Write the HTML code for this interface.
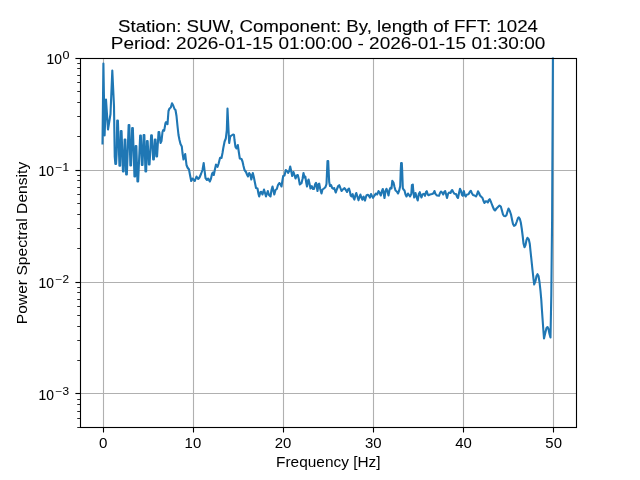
<!DOCTYPE html>
<html><head><meta charset="utf-8"><title>Power Spectral Density</title>
<style>html,body{margin:0;padding:0;background:#fff;}body{position:relative;width:640px;height:480px;overflow:hidden;}svg{display:block;position:absolute;left:0;top:0;}svg.t{will-change:transform;}text{font-family:"Liberation Sans",sans-serif;fill:#000;}</style>
</head><body>
<svg width="640" height="480" viewBox="0 0 640 480">
<rect x="0" y="0" width="640" height="480" fill="#ffffff"/>
<g stroke="#b0b0b0" stroke-width="1.11">
<line x1="103.5" y1="58.1" x2="103.5" y2="427.2"/>
<line x1="193.5" y1="58.1" x2="193.5" y2="427.2"/>
<line x1="283.5" y1="58.1" x2="283.5" y2="427.2"/>
<line x1="373.5" y1="58.1" x2="373.5" y2="427.2"/>
<line x1="463.5" y1="58.1" x2="463.5" y2="427.2"/>
<line x1="553.5" y1="58.1" x2="553.5" y2="427.2"/>
<line x1="80.0" y1="58.5" x2="576.0" y2="58.5"/>
<line x1="80.0" y1="170.5" x2="576.0" y2="170.5"/>
<line x1="80.0" y1="282.5" x2="576.0" y2="282.5"/>
<line x1="80.0" y1="393.5" x2="576.0" y2="393.5"/>
</g>
<g stroke="#000" stroke-width="1.11">
<line x1="103.5" y1="427.2" x2="103.5" y2="432.50"/>
<line x1="193.5" y1="427.2" x2="193.5" y2="432.50"/>
<line x1="283.5" y1="427.2" x2="283.5" y2="432.50"/>
<line x1="373.5" y1="427.2" x2="373.5" y2="432.50"/>
<line x1="463.5" y1="427.2" x2="463.5" y2="432.50"/>
<line x1="553.5" y1="427.2" x2="553.5" y2="432.50"/>
<line x1="75.40" y1="58.5" x2="80.0" y2="58.5"/>
<line x1="75.40" y1="170.5" x2="80.0" y2="170.5"/>
<line x1="75.40" y1="282.5" x2="80.0" y2="282.5"/>
<line x1="75.40" y1="393.5" x2="80.0" y2="393.5"/>
</g>
<g stroke="#000" stroke-width="0.83">
<line x1="77.22" y1="136.5" x2="80.0" y2="136.5"/>
<line x1="77.22" y1="116.5" x2="80.0" y2="116.5"/>
<line x1="77.22" y1="102.5" x2="80.0" y2="102.5"/>
<line x1="77.22" y1="91.5" x2="80.0" y2="91.5"/>
<line x1="77.22" y1="82.5" x2="80.0" y2="82.5"/>
<line x1="77.22" y1="75.5" x2="80.0" y2="75.5"/>
<line x1="77.22" y1="68.5" x2="80.0" y2="68.5"/>
<line x1="77.22" y1="63.5" x2="80.0" y2="63.5"/>
<line x1="77.22" y1="248.5" x2="80.0" y2="248.5"/>
<line x1="77.22" y1="228.5" x2="80.0" y2="228.5"/>
<line x1="77.22" y1="214.5" x2="80.0" y2="214.5"/>
<line x1="77.22" y1="203.5" x2="80.0" y2="203.5"/>
<line x1="77.22" y1="194.5" x2="80.0" y2="194.5"/>
<line x1="77.22" y1="187.5" x2="80.0" y2="187.5"/>
<line x1="77.22" y1="180.5" x2="80.0" y2="180.5"/>
<line x1="77.22" y1="175.5" x2="80.0" y2="175.5"/>
<line x1="77.22" y1="360.5" x2="80.0" y2="360.5"/>
<line x1="77.22" y1="340.5" x2="80.0" y2="340.5"/>
<line x1="77.22" y1="326.5" x2="80.0" y2="326.5"/>
<line x1="77.22" y1="315.5" x2="80.0" y2="315.5"/>
<line x1="77.22" y1="306.5" x2="80.0" y2="306.5"/>
<line x1="77.22" y1="299.5" x2="80.0" y2="299.5"/>
<line x1="77.22" y1="292.5" x2="80.0" y2="292.5"/>
<line x1="77.22" y1="287.5" x2="80.0" y2="287.5"/>
<line x1="77.22" y1="427.5" x2="80.0" y2="427.5"/>
<line x1="77.22" y1="418.5" x2="80.0" y2="418.5"/>
<line x1="77.22" y1="411.5" x2="80.0" y2="411.5"/>
<line x1="77.22" y1="404.5" x2="80.0" y2="404.5"/>
<line x1="77.22" y1="399.5" x2="80.0" y2="399.5"/>
</g>
<clipPath id="c"><rect x="80.0" y="57.6" width="496.0" height="369.59999999999997"/></clipPath>
<path d="M102.50 143.50 L103.40 63.50 L104.60 135.50 L106.00 99.50 L108.00 129.50 L110.50 114.00 L112.30 70.50 L113.99 106.00 L114.75 157.00 L115.35 164.00 L116.05 164.00 L116.60 154.00 L117.20 120.50 L117.90 120.50 L119.45 165.80 L120.15 165.80 L120.85 131.00 L121.55 131.00 L122.95 171.50 L123.65 171.50 L124.65 139.50 L125.35 139.50 L126.15 174.50 L126.85 174.50 L128.65 125.00 L129.35 125.00 L130.35 165.50 L131.05 165.50 L132.15 128.00 L132.85 128.00 L134.45 176.50 L135.15 176.50 L135.65 146.00 L136.35 146.00 L137.45 181.50 L138.15 181.50 L140.15 135.50 L140.85 135.50 L141.85 165.00 L142.55 165.00 L143.65 135.00 L144.35 135.00 L145.45 171.50 L146.15 171.50 L146.95 141.00 L147.65 141.00 L148.85 164.50 L149.55 164.50 L151.15 135.30 L151.85 135.30 L153.15 159.50 L153.85 159.50 L154.85 139.50 L155.55 139.50 L156.35 156.50 L157.05 156.50 L158.55 132.00 L159.25 132.00 L160.50 143.00 L161.50 141.00 L162.50 132.00 L163.20 130.00 L164.20 130.70 L165.50 123.00 L166.00 122.20 L167.50 124.20 L168.50 111.00 L169.50 108.50 L170.80 107.50 L172.00 103.30 L173.20 105.50 L174.50 109.00 L175.50 110.00 L176.50 116.00 L177.50 126.00 L178.50 135.00 L179.50 140.00 L180.50 144.00 L181.80 146.50 L182.50 153.00 L183.50 159.50 L185.20 154.00 L186.50 165.00 L187.50 167.50 L189.00 169.50 L190.00 175.00 L191.20 181.00 L192.50 178.50 L193.50 179.50 L194.80 181.00 L196.50 176.50 L198.20 179.00 L199.50 177.50 L201.00 174.00 L202.50 170.00 L203.70 163.00 L204.50 170.00 L205.50 178.00 L207.00 180.00 L208.20 178.50 L209.80 181.50 L211.00 178.50 L212.00 174.00 L212.80 172.50 L213.80 175.00 L214.80 170.00 L216.00 164.50 L217.50 166.80 L218.50 164.00 L220.00 158.00 L221.00 157.50 L221.50 158.00 L222.50 153.00 L223.30 148.00 L224.60 141.50 L225.80 138.50 L226.80 130.00 L227.50 108.50 L228.50 130.00 L229.20 143.00 L230.20 136.50 L231.50 135.50 L233.00 134.50 L234.00 135.00 L234.50 140.00 L235.50 147.00 L236.50 148.50 L237.80 145.00 L238.80 152.00 L239.80 158.50 L241.50 159.00 L242.50 161.50 L243.50 166.00 L244.50 170.00 L246.00 172.00 L247.20 175.00 L248.00 176.50 L249.20 173.00 L250.30 174.50 L251.30 179.50 L252.80 173.00 L253.80 177.00 L255.00 183.00 L256.00 188.00 L257.50 188.50 L258.50 194.00 L259.20 196.50 L260.50 192.00 L261.20 191.80 L262.50 194.50 L264.00 189.50 L265.00 193.00 L266.00 196.50 L267.80 191.00 L269.00 195.00 L270.50 196.50 L271.50 190.00 L272.50 186.50 L273.50 191.00 L274.30 194.50 L275.50 190.00 L276.80 189.00 L278.00 185.00 L279.30 183.00 L280.50 184.50 L281.50 186.50 L282.50 180.00 L283.20 176.00 L284.50 175.50 L285.80 170.00 L287.00 171.00 L288.20 172.80 L289.20 171.00 L290.20 166.50 L291.20 171.00 L292.20 176.00 L293.50 172.00 L294.50 175.00 L295.50 178.50 L296.80 175.50 L297.80 175.00 L298.80 179.00 L299.80 184.50 L301.50 183.20 L302.50 179.00 L303.50 173.00 L304.50 177.50 L305.30 176.50 L306.30 183.00 L307.00 186.50 L308.00 181.00 L308.60 179.50 L309.80 185.00 L310.50 188.50 L311.80 186.20 L313.00 189.00 L314.00 189.00 L315.20 184.00 L316.00 182.80 L316.80 187.00 L317.50 191.00 L318.50 184.00 L319.20 183.50 L320.20 189.00 L321.50 193.50 L322.50 189.50 L324.00 188.50 L325.50 187.00 L326.50 184.00 L327.10 170.00 L327.50 161.00 L328.20 161.00 L328.60 170.00 L329.20 182.00 L330.00 186.00 L331.00 185.00 L332.20 188.00 L333.20 188.80 L334.20 188.00 L335.20 191.00 L335.80 192.50 L337.00 189.00 L338.20 186.00 L339.20 185.20 L340.20 187.50 L341.50 191.00 L342.80 189.50 L344.50 188.20 L345.50 189.50 L347.00 192.00 L348.00 189.50 L349.00 188.50 L349.90 191.50 L350.60 195.30 L351.40 196.40 L352.70 194.10 L353.40 197.50 L354.40 199.60 L355.40 195.30 L356.30 193.00 L357.20 196.00 L358.50 200.30 L359.60 196.80 L360.40 194.50 L361.40 197.50 L362.30 199.70 L363.20 197.10 L363.60 196.60 L364.40 199.40 L365.00 200.60 L365.80 197.50 L366.60 195.20 L367.90 194.80 L369.00 196.00 L369.90 197.60 L371.00 194.00 L372.00 196.00 L373.00 197.80 L374.50 195.50 L376.00 193.50 L377.20 194.50 L378.50 191.00 L379.50 192.50 L380.80 195.50 L381.80 191.50 L382.80 189.00 L383.80 194.00 L384.50 198.00 L385.50 191.00 L386.50 188.80 L387.50 191.50 L388.50 195.50 L389.50 190.00 L390.50 187.80 L391.50 188.50 L392.30 180.80 L393.50 182.50 L394.50 187.00 L395.50 190.50 L396.80 191.50 L398.00 193.50 L399.20 190.50 L400.20 186.00 L400.70 171.00 L401.10 163.00 L401.80 163.00 L402.20 171.00 L402.80 188.00 L403.50 189.50 L404.50 190.50 L405.50 194.50 L406.50 196.50 L408.00 193.50 L409.00 195.00 L410.00 196.50 L411.30 194.00 L411.90 185.20 L412.80 184.50 L413.30 191.00 L414.20 197.50 L415.50 193.00 L416.50 197.00 L417.70 200.50 L418.80 194.00 L419.80 192.20 L420.80 196.00 L421.50 197.50 L422.50 194.50 L423.80 193.80 L425.00 195.80 L426.00 192.00 L426.80 191.20 L427.80 194.50 L428.50 195.20 L430.00 194.50 L432.00 194.00 L433.50 193.20 L434.50 191.00 L435.50 194.00 L437.00 195.50 L439.00 195.80 L440.00 193.00 L441.00 191.50 L442.20 192.80 L443.20 194.50 L444.20 192.00 L445.20 191.00 L446.00 194.00 L447.00 198.00 L448.00 194.00 L449.00 192.50 L450.50 193.00 L451.50 190.80 L452.20 190.00 L453.20 192.00 L454.50 193.80 L456.00 194.00 L457.20 197.00 L458.00 198.00 L459.00 193.00 L460.00 188.80 L461.00 191.00 L462.00 195.00 L462.80 195.80 L463.80 191.00 L464.80 195.00 L465.70 196.50 L467.00 194.50 L468.50 194.20 L470.00 191.50 L470.80 190.80 L471.80 193.00 L473.00 195.00 L474.50 195.50 L476.00 196.50 L477.20 194.00 L478.00 191.30 L479.00 193.00 L480.00 195.50 L481.50 197.00 L482.50 198.00 L483.50 201.00 L484.50 203.00 L485.80 201.20 L486.80 201.50 L487.80 202.50 L488.80 200.00 L489.70 199.20 L491.00 202.00 L492.50 206.00 L494.00 209.50 L495.00 210.50 L496.50 208.50 L498.00 207.00 L499.50 205.50 L500.80 206.50 L501.80 210.00 L503.00 214.50 L504.00 216.00 L505.50 216.20 L506.50 215.00 L507.50 211.50 L508.50 208.50 L509.80 211.00 L511.00 214.50 L512.00 219.50 L513.00 224.00 L514.00 225.80 L515.50 225.00 L516.80 221.50 L518.00 218.00 L518.80 217.40 L519.80 218.80 L520.80 222.50 L521.80 229.00 L522.80 237.00 L523.50 243.50 L524.50 247.20 L525.50 245.00 L526.50 240.00 L527.50 237.80 L528.80 239.50 L529.80 244.00 L530.50 251.00 L531.30 258.50 L532.50 270.00 L533.50 279.00 L534.20 284.50 L535.50 281.00 L536.50 276.00 L537.50 274.20 L538.50 276.00 L539.50 282.00 L540.50 291.00 L541.30 300.00 L541.80 308.00 L542.50 318.00 L543.20 328.00 L544.00 338.50 L545.50 332.00 L546.50 328.00 L547.50 327.00 L548.50 329.00 L549.50 334.00 L550.50 337.50 L551.30 295.00 L552.10 220.00 L552.70 100.00 L553.00 40.00" fill="none" stroke="#1f77b4" stroke-width="2.1" stroke-linejoin="round" stroke-linecap="square" clip-path="url(#c)"/>
<rect x="80.5" y="58.5" width="496" height="369" fill="none" stroke="#000" stroke-width="1.11"/>
</svg>
<svg class="t" width="640" height="480" viewBox="0 0 640 480">
<text x="328" y="31.5" font-size="17.0" text-anchor="middle" textLength="420" lengthAdjust="spacingAndGlyphs" stroke="#000" stroke-width="0.10">Station: SUW, Component: By, length of FFT: 1024</text>
<text x="328" y="48.5" font-size="17.0" text-anchor="middle" textLength="434.5" lengthAdjust="spacingAndGlyphs" stroke="#000" stroke-width="0.07">Period: 2026-01-15 01:00:00 - 2026-01-15 01:30:00</text>
<text x="328.3" y="466.5" font-size="14.2" text-anchor="middle" textLength="104.5" lengthAdjust="spacingAndGlyphs">Frequency [Hz]</text>
<text transform="translate(26.5,243) rotate(-90)" font-size="14.2" text-anchor="middle" textLength="162.5" lengthAdjust="spacingAndGlyphs">Power Spectral Density</text>
<text x="103.24545454545455" y="447.8" font-size="14.2" text-anchor="middle" textLength="8.4" lengthAdjust="spacingAndGlyphs">0</text>
<text x="192.9272727272727" y="447.8" font-size="14.2" text-anchor="middle" textLength="16.6" lengthAdjust="spacingAndGlyphs">10</text>
<text x="283.1090909090909" y="447.8" font-size="14.2" text-anchor="middle" textLength="16.6" lengthAdjust="spacingAndGlyphs">20</text>
<text x="373.2909090909091" y="447.8" font-size="14.2" text-anchor="middle" textLength="16.6" lengthAdjust="spacingAndGlyphs">30</text>
<text x="463.47272727272724" y="447.8" font-size="14.2" text-anchor="middle" textLength="16.6" lengthAdjust="spacingAndGlyphs">40</text>
<text x="553.6545454545455" y="447.8" font-size="14.2" text-anchor="middle" textLength="16.6" lengthAdjust="spacingAndGlyphs">50</text>
<text x="46.50" y="63.60" font-size="14.2" textLength="15.4" lengthAdjust="spacingAndGlyphs" stroke="#000" stroke-width="0.07">10</text>
<text x="62.40" y="58.90" font-size="10.0" textLength="7.0" lengthAdjust="spacingAndGlyphs" stroke="#000" stroke-width="0.07">0</text>
<text x="38.60" y="175.57" font-size="14.2" textLength="15.4" lengthAdjust="spacingAndGlyphs" stroke="#000" stroke-width="0.07">10</text>
<text x="55.60" y="170.87" font-size="10.0" textLength="13.4" lengthAdjust="spacingAndGlyphs" stroke="#000" stroke-width="0.07">−1</text>
<text x="38.60" y="287.53" font-size="14.2" textLength="15.4" lengthAdjust="spacingAndGlyphs" stroke="#000" stroke-width="0.07">10</text>
<text x="55.60" y="282.83" font-size="10.0" textLength="13.4" lengthAdjust="spacingAndGlyphs" stroke="#000" stroke-width="0.07">−2</text>
<text x="38.60" y="399.50" font-size="14.2" textLength="15.4" lengthAdjust="spacingAndGlyphs" stroke="#000" stroke-width="0.07">10</text>
<text x="55.60" y="394.80" font-size="10.0" textLength="13.4" lengthAdjust="spacingAndGlyphs" stroke="#000" stroke-width="0.07">−3</text>
</svg></body></html>
